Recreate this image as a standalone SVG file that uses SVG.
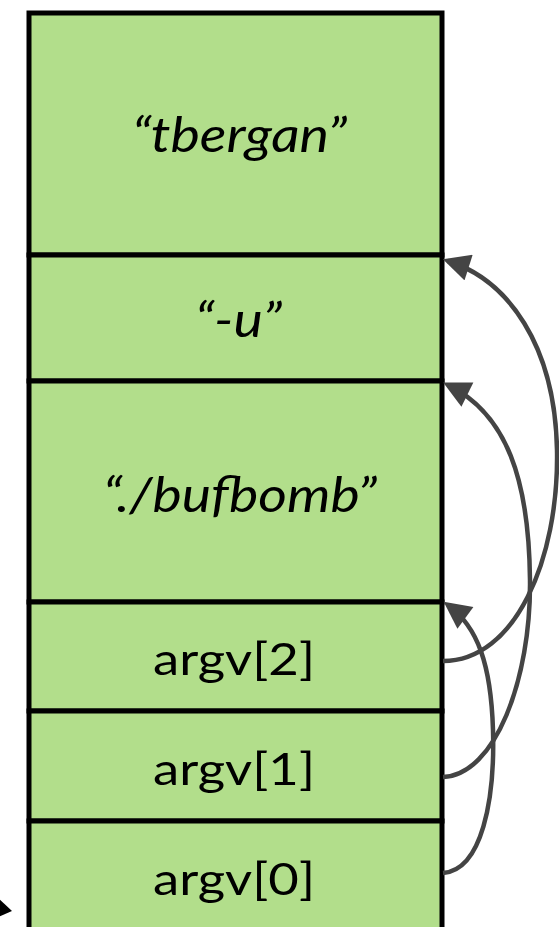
<svg xmlns="http://www.w3.org/2000/svg" width="559" height="927" viewBox="0 0 559 927">
  <style>
    .cell { fill: #b2de8b; stroke: #000; stroke-width: 5; }
    .lbl { font-family: "Lato", "Open Sans", "Liberation Sans", sans-serif; fill: #000; font-size: 45px; }
    .str { font-style: italic; font-size: 48px; }
    .ptr { fill: none; stroke: #444; stroke-width: 4.5; marker-end: url(#head); }
  </style>
  <defs>
    <marker id="head" viewBox="0 0 10 10" refX="8" refY="5" markerWidth="6.4" markerHeight="6" orient="auto" markerUnits="strokeWidth">
      <path d="M0,0 L10,5 L0,10 z" fill="#444"/>
    </marker>
  </defs>

  <!-- stack cells, top to bottom -->
  <g id="str-tbergan">
    <rect class="cell" x="29" y="13" width="413" height="242"/>
    <text class="lbl str" x="132" y="152" textLength="215" lengthAdjust="spacingAndGlyphs">“tbergan”</text>
  </g>
  <g id="str-u">
    <rect class="cell" x="29" y="255" width="413" height="126"/>
    <text class="lbl str" x="195" y="337" textLength="87" lengthAdjust="spacingAndGlyphs">“-u”</text>
  </g>
  <g id="str-bufbomb">
    <rect class="cell" x="29" y="381" width="413" height="221"/>
    <text class="lbl str" x="103" y="512" textLength="274" lengthAdjust="spacingAndGlyphs">“./bufbomb”</text>
  </g>
  <g id="argv2">
    <rect class="cell" x="29" y="602" width="413" height="109"/>
    <text class="lbl" x="153" y="675" textLength="162" lengthAdjust="spacingAndGlyphs">argv[2]</text>
  </g>
  <g id="argv1">
    <rect class="cell" x="29" y="711" width="413" height="110"/>
    <text class="lbl" x="153" y="785" textLength="162" lengthAdjust="spacingAndGlyphs">argv[1]</text>
  </g>
  <g id="argv0">
    <rect class="cell" x="29" y="821" width="413" height="120"/>
    <text class="lbl" x="153" y="895" textLength="162" lengthAdjust="spacingAndGlyphs">argv[0]</text>
  </g>

  <!-- pointers from argv slots to their strings -->
  <g id="connectors">
    <path class="ptr" d="M443,661 C515,661 559,560 557,450 C555,345 508,280 448,261"/>
    <path class="ptr" d="M443,777 C495,775 531,680 530,580 C529,480 507,414 448,385"/>
    <path class="ptr" d="M443,873 C482,870 495,800 493,730 C491,665 478,627 448,605"/>
    <polygon points="-4,896 12,911 -2,917" fill="#000"/>
  </g>
</svg>
